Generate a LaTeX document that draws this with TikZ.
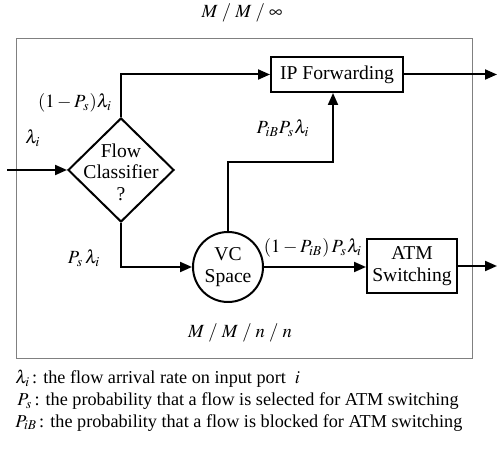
\documentclass[tikz,border=0pt]{standalone}
\usepackage{mathptmx}
\usepackage[no-math]{fontspec}
\setmainfont{Liberation Serif}
\usetikzlibrary{arrows.meta,shapes.geometric}
\begin{document}
\begin{tikzpicture}[x=0.5pt,y=-0.5pt,
  flow/.style={line width=1pt,-{Triangle[length=6pt,width=5pt]}},
  lbl/.style={inner sep=0pt,font=\fontsize{9.3}{11}\selectfont},
  boxnode/.style={draw,line width=1pt,inner sep=0pt,align=center,font=\fontsize{9.8}{10.8}\selectfont},
  legend/.style={anchor=base west,inner sep=0pt,font=\fontsize{9.1}{11}\selectfont}]
\useasboundingbox (0,0) rectangle (497,453);
\draw[gray,line width=0.5pt] (16,39) rectangle (472,359);
\node[lbl] (title) at (242,13) {$M\,\,/\,\,M\,\,/\,\,\infty$};
\node[diamond,draw,line width=1pt,minimum width=53pt,minimum height=52pt,inner sep=0pt] (fc) at (121,170) {};
\node[align=center,inner sep=0pt,font=\fontsize{9.8}{10.8}\selectfont] (fct) at (121,172) {Flow\\Classifier\\?};
\node[boxnode,minimum width=66pt,minimum height=17.5pt] (ip) at (337,74.5) {IP Forwarding};
\node[boxnode,circle,minimum size=35pt] (vc) at (228,267) {VC\\Space};
\node[boxnode,minimum width=45pt,minimum height=27pt] (atm) at (412,266) {ATM\\Switching};
\coordinate (in) at (7,170);
\coordinate (ipout) at (497,74.5);
\coordinate (atmout) at (497,266);
\coordinate (turn) at (333,162);
\draw[flow] (in) -- (fc.west);
\draw[flow] (fc.north) |- (ip.west);
\draw[flow] (ip.east) -- (ipout);
\draw[flow] (fc.south) |- (vc.west);
\draw[flow] (vc.north) |- (turn) -- (turn |- ip.south);
\draw[flow] (vc.east) -- (vc.east -| atm.west);
\draw[flow] (atm.east) -- (atmout);
\node[lbl] (l1) at (33,138) {$\lambda_i$};
\node[lbl] (l2) at (75,103) {$(1-P_s)\lambda_i$};
\node[lbl] (l3) at (283,128) {$P_{iB}P_s\lambda_i$};
\node[lbl] (l4) at (84,258) {$P_s\,\lambda_i$};
\node[lbl] (l5) at (313,248) {$(1-P_{iB})\,P_s\lambda_i$};
\node[lbl] (l6) at (240,333) {$M\,\,/\,\,M\,\,/\,\,n\,\,/\,\,n$};
\node[legend] (g1) at (15,384) {$\lambda_i\,$: the flow arrival rate on input port \ $i$};
\node[legend] (g2) at (17,406) {$P_s\,$: the probability that a flow is selected for ATM switching};
\node[legend] (g3) at (15,427) {$P_{iB}\,$: the probability that a flow is blocked for ATM switching};
\end{tikzpicture}
\end{document}
